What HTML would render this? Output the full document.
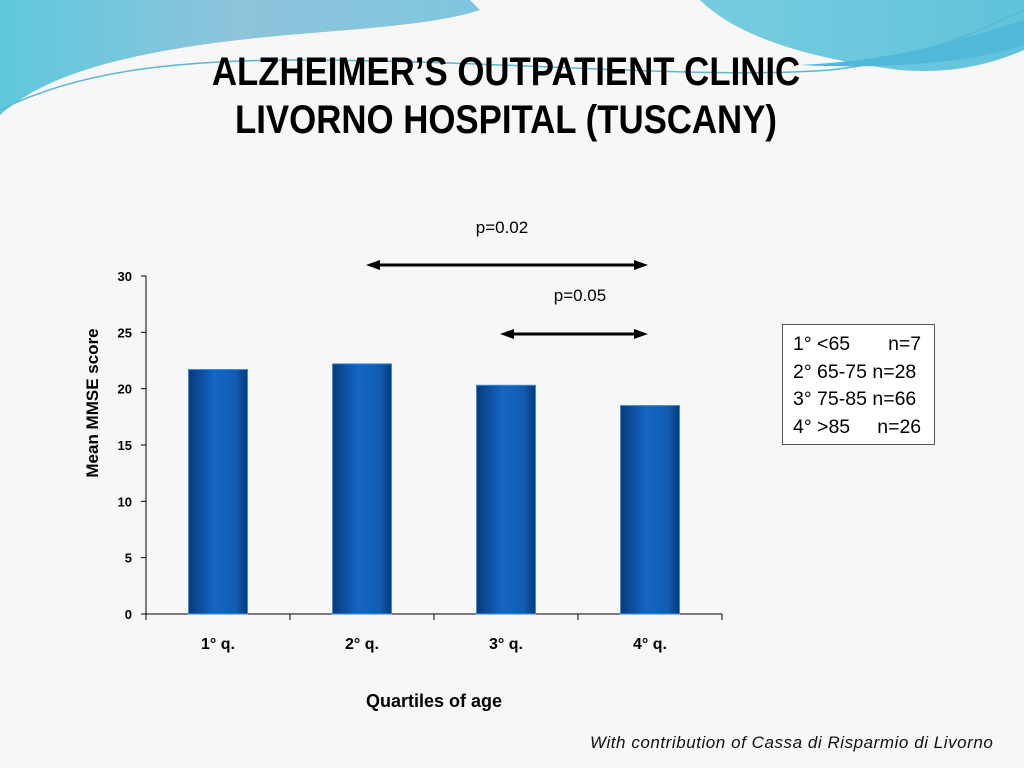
<!DOCTYPE html>
<html><head><meta charset="utf-8"><style>
body{margin:0;width:1024px;height:768px;overflow:hidden;background:#f7f7f7;font-family:"Liberation Sans",sans-serif;position:relative}
.t{position:absolute;font-family:"Liberation Sans Narrow","Liberation Sans",sans-serif;font-weight:bold;color:#000}
</style></head><body>
<svg style="position:absolute;left:0;top:0" width="1024" height="160">
<defs><linearGradient id="g1" x1="0" y1="0" x2="1" y2="0"><stop offset="0" stop-color="#5fc8dc"/><stop offset="0.5" stop-color="#8ec4dc"/><stop offset="1" stop-color="#7fc6df"/></linearGradient>
<linearGradient id="g2" x1="0" y1="0" x2="1" y2="0"><stop offset="0" stop-color="#a8dfe6"/><stop offset="1" stop-color="#60c3dc"/></linearGradient></defs>
<path d="M0 0 H700 C740 40 820 60 900 70 C960 75 1000 60 1024 50 V0 Z" fill="url(#g2)"/>
<path d="M0 0 H470 L480 10 C420 30 300 30 200 45 C100 60 40 80 0 115 Z" fill="url(#g1)"/>
<path d="M0 110 C80 70 180 60 300 60 C500 60 700 80 830 70 C920 60 980 30 1024 10" stroke="#5ab8d0" stroke-width="1.5" fill="none"/>
<path d="M800 65 C900 60 960 40 1024 20 V45 C980 60 900 70 800 65Z" fill="#50b8d8"/>
</svg>
<div class="t" style="left:-6px;width:1024px;text-align:center;top:48px;font-size:40px;line-height:48px;transform:scaleX(0.87)">ALZHEIMER’S OUTPATIENT CLINIC<br>LIVORNO HOSPITAL (TUSCANY)</div>
<svg id="c" style="position:absolute;left:0;top:0" width="1024" height="768">
<defs><linearGradient id="bg" x1="0" y1="0" x2="1" y2="0"><stop offset="0" stop-color="#0a3a78"/><stop offset="0.45" stop-color="#1368c4"/><stop offset="0.8" stop-color="#0f5cb0"/><stop offset="1" stop-color="#0a3a78"/></linearGradient></defs>
</svg>
<div style="position:absolute;left:782px;top:324px;width:153px;height:121px;border:1px solid #555;background:#fff;font-size:19.5px;line-height:27.5px;padding:6px 0 0 10px;box-sizing:border-box;color:#000">
1° &lt;65 &nbsp;&nbsp;&nbsp;&nbsp;&nbsp; n=7<br>2° 65-75 n=28<br>3° 75-85 n=66<br>4° &gt;85 &nbsp;&nbsp;&nbsp; n=26</div>
<div style="position:absolute;left:590px;top:733px;font-size:17px;font-style:italic;color:#111;letter-spacing:0.55px">With contribution of Cassa di Risparmio di Livorno</div>
<script>
const categories=["1° q.","2° q.","3° q.","4° q."];
const values=[21.7,22.2,20.3,18.5];
const yTicks=[0,5,10,15,20,25,30];
const ns="http://www.w3.org/2000/svg",svg=document.getElementById('c');
const x0=146,x1=722,yb=614,yt=276,ymax=30;
const Y=v=>yb-(v/ymax)*(yb-yt);
const cw=(x1-x0)/categories.length;
const X=i=>x0+cw*(i+0.5);
function mk(t,a,txt){const e=document.createElementNS(ns,t);for(const k in a)e.setAttribute(k,a[k]);if(txt!==undefined)e.textContent=txt;svg.appendChild(e);return e;}
let e;
e=mk('line',{x1:x0,y1:yt,x2:x0,y2:yb,stroke:'#000','stroke-width':1});


e=mk('line',{x1:x0,y1:yb,x2:x1,y2:yb,stroke:'#000','stroke-width':1});


yTicks.forEach(v=>{
 e=mk('line',{x1:x0-5,y1:Y(v),x2:x0,y2:Y(v),stroke:'#000'});
 
 
 e=mk('text',{x:x0-14,y:Y(v)+5,'text-anchor':'end','font-size':13,'font-weight':'bold','font-family':'Liberation Sans'},String(v));
 
 
});
for(let i=0;i<=categories.length;i++){
 e=mk('line',{x1:x0+cw*i,y1:yb,x2:x0+cw*i,y2:yb+6,stroke:'#000'});
 
 
}
categories.forEach((c,i)=>{
 e=mk('rect',{x:X(i)-29.5,y:Y(values[i]),width:59,height:yb-Y(values[i]),fill:'url(#bg)',stroke:'#3a8ae0','stroke-width':1});
 
 
 e=mk('text',{x:X(i),y:649,'text-anchor':'middle','font-size':16,'font-weight':'bold','font-family':'Liberation Sans'},c);
 
 
});
e=mk('text',{x:0,y:0,transform:'translate(98,403) rotate(-90)','text-anchor':'middle','font-size':17,'font-weight':'bold','font-family':'Liberation Sans'},'Mean MMSE score');


e=mk('text',{x:434,y:707,'text-anchor':'middle','font-size':18,'font-weight':'bold','font-family':'Liberation Sans'},'Quartiles of age');


function arrow(xa,xb,y,name){
 e=mk('line',{x1:xa+10,y1:y,x2:xb-10,y2:y,stroke:'#000','stroke-width':3});
 
 
 mk('polygon',{points:`${xa},${y} ${xa+14},${y-5} ${xa+14},${y+5}`,fill:'#000'});
 mk('polygon',{points:`${xb},${y} ${xb-14},${y-5} ${xb-14},${y+5}`,fill:'#000'});
}
arrow(366,648,265,'arrow-q2-q4');
arrow(500,648,334,'arrow-q3-q4');
e=mk('text',{x:502,y:233,'text-anchor':'middle','font-size':17,'font-family':'Liberation Sans'},'p=0.02');


e=mk('text',{x:580,y:301,'text-anchor':'middle','font-size':17,'font-family':'Liberation Sans'},'p=0.05');


</script>
</body></html>
